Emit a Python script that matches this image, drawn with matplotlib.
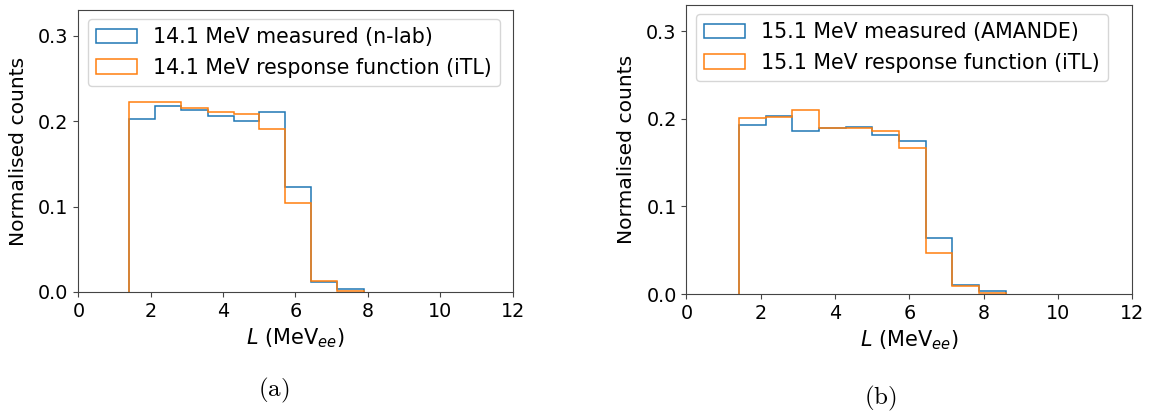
import matplotlib
matplotlib.use("Agg")
import matplotlib.pyplot as plt

# light-output bin edges (MeVee); 14.1 MeV data stops one bin earlier
edges_a = [1.41, 2.13, 2.85, 3.57, 4.29, 5.00, 5.72, 6.44, 7.16, 7.88]
edges_b = [1.41, 2.13, 2.85, 3.57, 4.29, 5.00, 5.72, 6.44, 7.16, 7.88, 8.60]

# 14.1 MeV: n-lab measurement vs iTL response function
meas_141 = [0.2025, 0.2176, 0.2126, 0.2064, 0.1998, 0.2103, 0.1224, 0.0117, 0.0039]
resp_141 = [0.2223, 0.2223, 0.2153, 0.2103, 0.2083, 0.1904, 0.1042, 0.0132, 0.0016]

# 15.1 MeV: AMANDE measurement vs iTL response function
meas_151 = [0.1935, 0.2027, 0.1866, 0.1893, 0.1905, 0.1817, 0.1752, 0.0637, 0.0107, 0.0040]
resp_151 = [0.2011, 0.2019, 0.2103, 0.1893, 0.1893, 0.1863, 0.1668, 0.0473, 0.0092, 0.0012]

labels_a = ["14.1 MeV measured (n-lab)", "14.1 MeV response function (iTL)"]
labels_b = ["15.1 MeV measured (AMANDE)", "15.1 MeV response function (iTL)"]

plt.rcParams["font.size"] = 13.8
plt.rcParams["mathtext.fontset"] = "dejavusans"

fig = plt.figure(figsize=(11.5, 4.13), dpi=100)
ax_a = fig.add_axes([0.0681, 0.2930, 0.3777, 0.6828])
ax_b = fig.add_axes([0.5969, 0.2881, 0.3877, 0.6998])


def panel(ax, edges, meas, resp, labels):
    ax.hist(edges[:-1], bins=edges, weights=meas, histtype="step",
            color="#1f77b4", lw=1.1, label=labels[0])
    ax.hist(edges[:-1], bins=edges, weights=resp, histtype="step",
            color="#ff7f0e", lw=1.1, label=labels[1])
    ax.set_xlim(0, 12)
    ax.set_ylim(0, 0.33)
    ax.set_xticks(range(0, 13, 2))
    ax.set_yticks([0.0, 0.1, 0.2, 0.3])
    ax.set_xlabel(r"$L$ (MeV$_{ee}$)", fontsize=15)
    ax.set_ylabel("Normalised counts", fontsize=14.6, labelpad=7)
    for s in ax.spines.values():
        s.set_color("#444444")
    ax.tick_params(color="#444444")
    ax.legend(loc="upper left", fontsize=14.8, borderaxespad=0.45)


panel(ax_a, edges_a, meas_141, resp_141, labels_a)
panel(ax_b, edges_b, meas_151, resp_151, labels_b)

# subfigure captions
cap = dict(ha="center", va="center", fontsize=18, math_fontfamily="cm")
fig.text(274 / 1150, 1 - 390 / 413, r"$\mathrm{(a)}$", **cap)
fig.text(880 / 1150, 1 - 398 / 413, r"$\mathrm{(b)}$", **cap)

fig.savefig("out.png", dpi=100)
